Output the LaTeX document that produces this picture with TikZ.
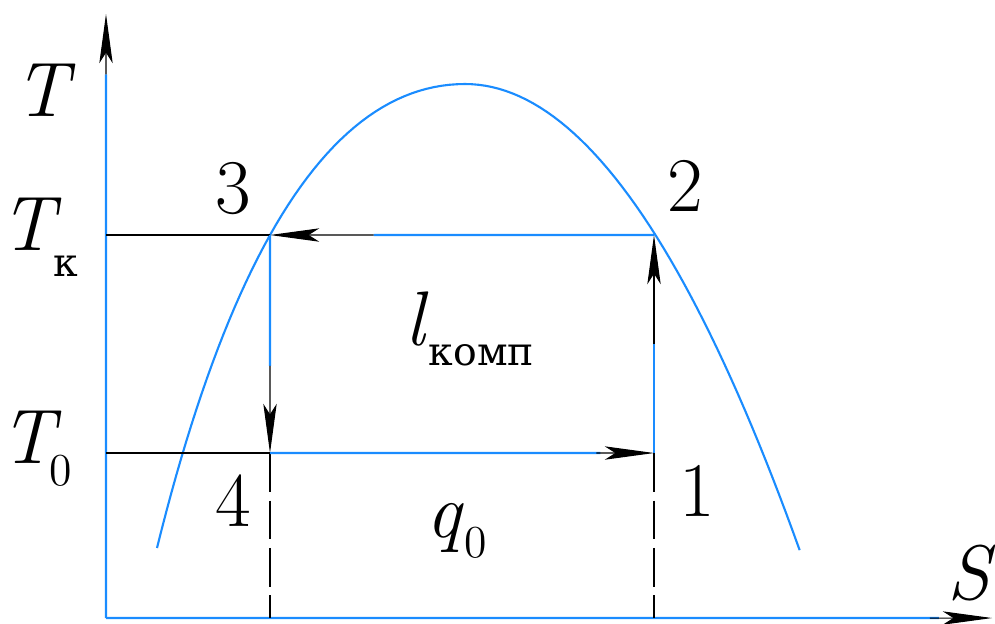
\documentclass[tikz,border=0pt]{standalone}
\usepackage{fontspec}
\newfontfamily\cyr{DejaVu Serif}
\usetikzlibrary{arrows.meta,calc}
\definecolor{dome}{HTML}{1A8CFF}
\tikzset{
  >={Stealth[length=14pt,width=3.8pt,inset=3pt]},
  % --- lines
  ax/.style    = {draw=dome, line width=0.6pt},
  cyc/.style   = {draw=dome, line width=0.6pt},
  thin/.style  = {draw=black, line width=0.3pt},
  arr/.style   = {thin, ->},
  guide/.style = {thin, dash pattern=on 11pt off 2.5pt},
  % --- labels
  big/.style   = {inner sep=0pt, font=\rmfamily\fontsize{22}{24}\selectfont},
}
\newcommand{\subk}[2]{\raisebox{-#1}{\cyr\fontsize{11.2}{12}\selectfont #2}}
\newcommand{\subz}[2]{\raisebox{-#1}{\fontsize{13}{13}\selectfont #2}}

\begin{document}
\begin{tikzpicture}[x=0.01cm,y=-0.01cm]
  \useasboundingbox (0,0) rectangle (995,623);
  % axes
  \coordinate (o)  at (106,618);
  \coordinate (yt) at (106,14);
  \coordinate (xt) at (992,618);
  \coordinate (yk) at (106,235);
  \coordinate (y0) at (106,453);
  % cycle points
  \coordinate (p1) at (654,453);
  \coordinate (p2) at (654,235);
  \coordinate (p3) at (270,235);
  \coordinate (p4) at (270,453);
  \coordinate (s1) at (654,618);
  \coordinate (s4) at (270,618);

  \draw[ax] (o) -- ($(o)!0.9!(yt)$);
  \draw[arr] ($(o)!0.9!(yt)$) -- (yt);
  \draw[ax] (o) -- ($(o)!0.94!(xt)$);
  \draw[arr] ($(o)!0.93!(xt)$) -- (xt);

  % saturation dome
  \draw[cyc] plot[domain=21.54:0, samples=50, variable=\u]
      ({465-17.95*\u+0.1695*\u*\u}, {84+\u*\u})
    -- plot[domain=0:21.59, samples=50, variable=\u]
      ({465+15.5*\u}, {84+\u*\u});

  % guides
  \draw[thin] (yk) -- (p3);
  \draw[thin] (y0) -- (p4);
  \draw[guide] (p4) -- (s4);
  \draw[guide] (p1) -- (s1);

  % cycle
  \draw[cyc] (p1) -- ($(p1)!0.5!(p2)$);
  \draw[arr] ($(p1)!0.5!(p2)$) -- (p2);
  \draw[cyc] (p2) -- ($(p2)!0.73!(p3)$);
  \draw[arr] ($(p2)!0.73!(p3)$) -- (p3);
  \draw[cyc] (p3) -- ($(p3)!0.6!(p4)$);
  \draw[arr] ($(p3)!0.6!(p4)$) -- (p4);
  \draw[cyc] (p4) -- ($(p4)!0.86!(p1)$);
  \draw[arr] ($(p4)!0.85!(p1)$) -- (p1);

  % labels
  \node[big] (lT) at (45,90) {\textit{T}};
  \node[big] (lS) at (972,573) {\textit{S}};
  \node[big, anchor=base west] (lTk) at (0,250) {\textit{T}\kern-2.5pt\subk{7.5pt}{к}};
  \node[big, anchor=base west] (lT0) at (0,463) {\textit{T}\kern-3.5pt\subz{6.3pt}{0}};
  \node[big] (n1) at (697,491) {1};
  \node[big] (n2) at (685,186) {2};
  \node[big] (n3) at (233,189) {3};
  \node[big] (n4) at (233,501) {4};
  \node[big, anchor=base west] (lw) at (405,345) {\textit{l}\subk{5.7pt}{комп}};
  \node[big, anchor=base west] (lq) at (426,537) {\textit{q}\subz{5.7pt}{0}};
\end{tikzpicture}
\end{document}
